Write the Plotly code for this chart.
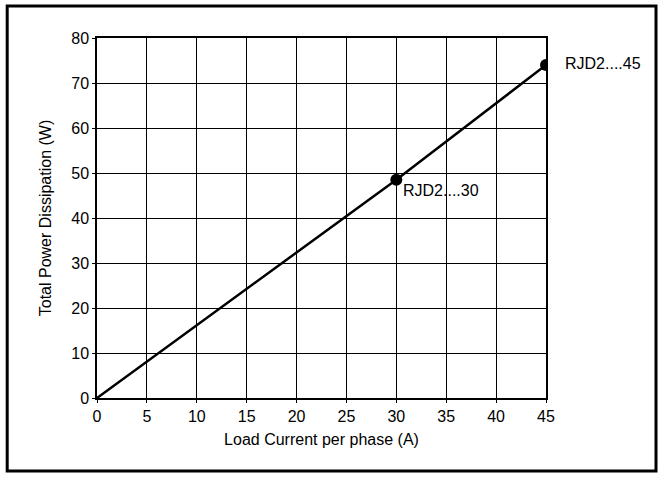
import plotly.graph_objects as go

current = [0, 30, 45]
power = [0, 48.5, 74]
marker_x = [30, 45]
marker_y = [48.5, 74]
labels = ["RJD2....30", "RJD2....45"]
x_ticks = [0, 5, 10, 15, 20, 25, 30, 35, 40, 45]
y_ticks = [0, 10, 20, 30, 40, 50, 60, 70, 80]

font = dict(family="Liberation Sans, Arial, sans-serif", size=16, color="black")

fig = go.Figure()
fig.add_trace(go.Scatter(x=current, y=power, mode="lines",
                         line=dict(color="black", width=2.5), showlegend=False, hoverinfo="skip"))
fig.add_trace(go.Scatter(x=marker_x, y=marker_y, mode="markers",
                         marker=dict(color="black", size=12), showlegend=False))

fig.add_annotation(x=marker_x[0], y=marker_y[0], text=labels[0], showarrow=False,
                   xanchor="left", yanchor="middle", xshift=5, yshift=-11, font=font)
fig.add_annotation(x=marker_x[1], y=marker_y[1], text=labels[1], showarrow=False,
                   xanchor="left", yanchor="middle", xshift=17, yshift=2, font=font)

axis_common = dict(showline=True, mirror=True, linecolor="black", linewidth=1.5,
                   showgrid=True, gridcolor="black", gridwidth=1, zeroline=False,
                   ticks="outside", ticklen=3, tickcolor="black", tickfont=font)

fig.update_xaxes(range=[0, 45], tickvals=x_ticks,
                 title=dict(text="Load Current per phase (A)", font=font, standoff=10),
                 **axis_common)
fig.update_yaxes(range=[0, 80], tickvals=y_ticks,
                 title=dict(text="Total Power Dissipation (W)", font=font, standoff=16),
                 **axis_common)

fig.add_shape(type="rect", xref="paper", yref="paper",
              x0=-0.2, x1=1.245, y0=-0.203, y1=1.089,
              line=dict(color="black", width=3))

fig.update_layout(width=663, height=478, margin=dict(l=97, r=117, t=38, b=80),
                  plot_bgcolor="white", paper_bgcolor="white", font=font)

fig.write_html("out.html", config={"displayModeBar": False},
               post_script="document.body.style.margin='0';document.body.style.padding='0';")
